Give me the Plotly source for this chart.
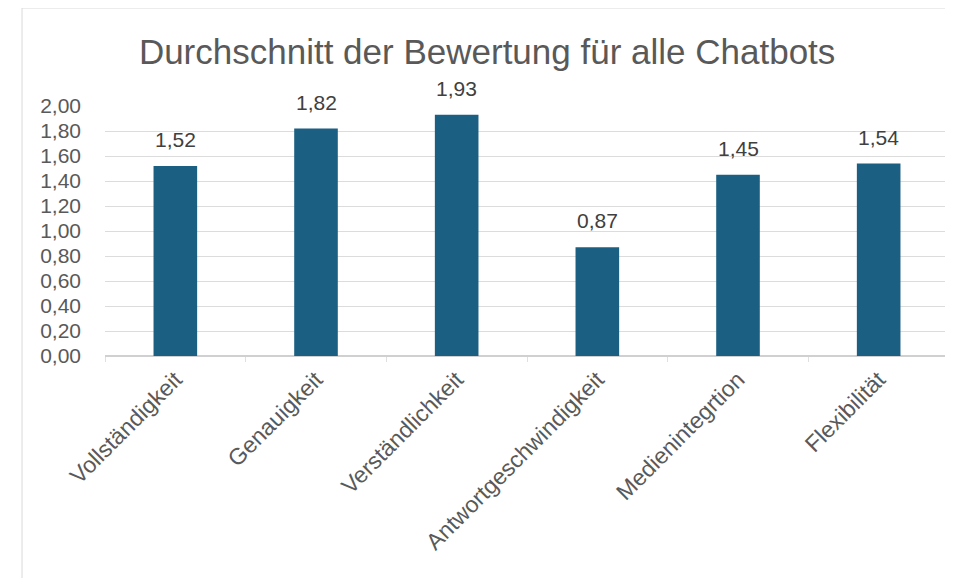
import plotly.graph_objects as go

categories = ["Vollständigkeit", "Genauigkeit", "Verständlichkeit",
              "Antwortgeschwindigkeit", "Medienintegrtion", "Flexibilität"]
values = [1.52, 1.82, 1.93, 0.87, 1.45, 1.54]
tick_vals = [0.0, 0.2, 0.4, 0.6, 0.8, 1.0, 1.2, 1.4, 1.6, 1.8, 2.0]
tick_text = ["0,00", "0,20", "0,40", "0,60", "0,80", "1,00",
             "1,20", "1,40", "1,60", "1,80", "2,00"]
labels = [f"{v:.2f}".replace(".", ",") for v in values]

FONT = "Liberation Sans, Arial, sans-serif"
GREY = "#595959"

fig = go.Figure(go.Bar(
    x=categories, y=values,
    marker=dict(color="#1b5f82", line=dict(width=0)),
    width=0.31,
))

annotations = [
    dict(x=c, y=v, text=t, xref="x", yref="y", showarrow=False,
         yanchor="bottom", yshift=13,
         font=dict(family=FONT, size=21, color="#404040"))
    for c, v, t in zip(categories, values, labels)
]

fig.update_layout(
    width=945, height=570,
    paper_bgcolor="white", plot_bgcolor="white",
    margin=dict(l=97, r=4, t=98, b=222),
    title=dict(text="Durchschnitt der Bewertung für alle Chatbots",
               x=0.507, xanchor="center", y=0.923, yanchor="middle",
               font=dict(family=FONT, size=35, color=GREY)),
    showlegend=False,
    annotations=annotations,
    xaxis=dict(tickangle=-45, tickfont=dict(family=FONT, size=23, color=GREY),
               showgrid=False, showline=True, linecolor="#d0d0d0", linewidth=1,
               ticks="outside", tickson="boundaries", ticklen=5, tickcolor="#e0e0e0",
               automargin=False),
    yaxis=dict(range=[0, 2.0], tickvals=tick_vals, ticktext=tick_text,
               tickfont=dict(family=FONT, size=21, color=GREY),
               showgrid=True, gridcolor="#dcdcdc", gridwidth=1,
               zeroline=True, zerolinecolor="#d0d0d0",
               ticks="", ticklabelstandoff=23, automargin=False),
    shapes=[
        dict(type="line", xref="paper", yref="paper", x0=-0.0983, x1=1.01, y0=1.392, y1=1.392,
             line=dict(color="#d9d9d9", width=1)),
        dict(type="line", xref="paper", yref="paper", x0=-0.0983, x1=-0.0983, y0=-0.888, y1=1.392,
             line=dict(color="#d9d9d9", width=1)),
    ],
)

fig.write_html("out.html")
